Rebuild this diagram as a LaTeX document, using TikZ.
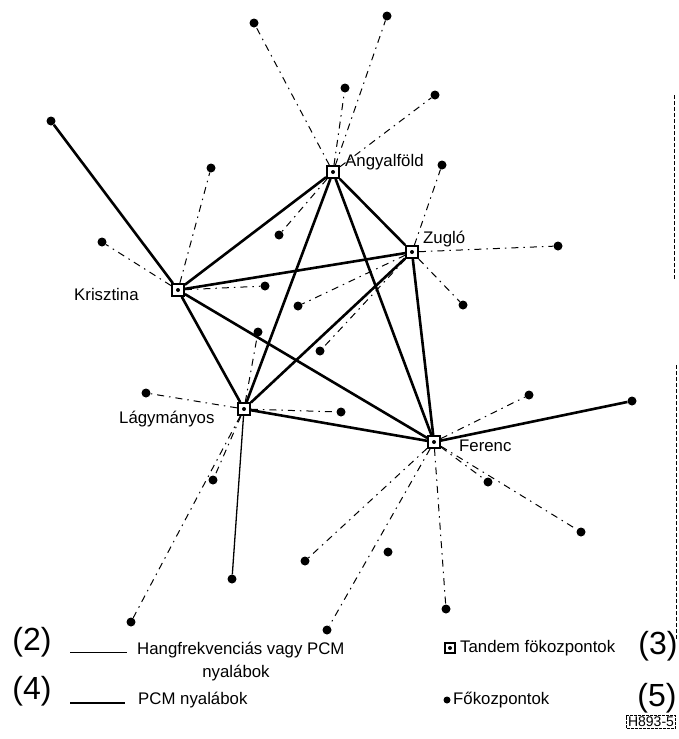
\documentclass[tikz,border=0pt]{standalone}
\usepackage{fontspec}
\setmainfont{Liberation Sans}

\begin{document}
\begin{tikzpicture}[x=1pt, y=-1pt,
  tandem/.style={draw, line width=1.8pt, fill=white, minimum size=12pt, inner sep=0pt,
    path picture={\fill [black] (path picture bounding box.center) circle (2pt);}},
  fok/.style={circle, fill, inner sep=0pt, minimum size=9pt},
  lbl/.style={font=\fontsize{16.8}{19}\selectfont, inner sep=0pt},
  num/.style={font=\fontsize{32}{34}\selectfont, inner sep=0pt},
  pcm/.style={line width=2.6pt},
  hang/.style={line width=1pt, dash pattern=on 7pt off 5pt on 1.5pt off 5pt},
  hangs/.style={line width=1.3pt},
  scanedge/.style={line width=0.9pt, dash pattern=on 4pt off 2pt}]
\useasboundingbox (0,0) rectangle (678,739);
\node [tandem] (ang) at (333,172) {};
\node [tandem] (zug) at (412,252) {};
\node [tandem] (kri) at (178,290) {};
\node [tandem] (lag) at (244,409) {};
\node [tandem] (fer) at (434,442) {};
\node [lbl, anchor=west] (angl) at (345,162) {Angyalföld};
\node [lbl, anchor=west] (zugl) at (423,239) {Zugló};
\node [lbl, anchor=west] (kril) at (74,294) {Krisztina};
\node [lbl, anchor=west] (lagl) at (119,419) {Lágymányos};
\node [lbl, anchor=west] (ferl) at (459,446) {Ferenc};
% fokozpontok
\node [fok] (a1) at (254,23) {};
\node [fok] (a2) at (387,16) {};
\node [fok] (a3) at (345,88) {};
\node [fok] (a4) at (435,95) {};
\node [fok] (a5) at (279,235) {};
\node [fok] (k1) at (51,121) {};
\node [fok] (k2) at (211,168) {};
\node [fok] (k3) at (102,242) {};
\node [fok] (k4) at (265,286) {};
\node [fok] (z1) at (442,165) {};
\node [fok] (z2) at (558,246) {};
\node [fok] (z3) at (298,306) {};
\node [fok] (z4) at (463,305) {};
\node [fok] (z5) at (320,351) {};
\node [fok] (l1) at (258,332) {};
\node [fok] (l2) at (146,393) {};
\node [fok] (l3) at (341,412) {};
\node [fok] (l4) at (213,480) {};
\node [fok] (l5) at (232,579) {};
\node [fok] (l6) at (131,622) {};
\node [fok] (f1) at (529,395) {};
\node [fok] (f2) at (632,401) {};
\node [fok] (f3) at (488,482) {};
\node [fok] (f4) at (581,532) {};
\node [fok] (f5) at (305,561) {};
\node [fok] (f6) at (388,552) {};
\node [fok] (f7) at (327,630) {};
\node [fok] (f8) at (446,609) {};
% PCM
\draw [pcm] (ang) -- (kri);
\draw [pcm] (ang) -- (zug);
\draw [pcm] (ang) -- (lag);
\draw [pcm] (ang) -- (fer);
\draw [pcm] (kri) -- (zug);
\draw [pcm] (kri) -- (lag);
\draw [pcm] (kri) -- (fer);
\draw [pcm] (zug) -- (lag);
\draw [pcm] (zug) -- (fer);
\draw [pcm] (lag) -- (fer);
\draw [pcm] (kri) -- (k1);
\draw [pcm] (fer) -- (f2);
% hangfrekvencias
\draw [hang] (ang) -- (a1);
\draw [hang] (ang) -- (a2);
\draw [hang] (ang) -- (a3);
\draw [hang] (ang) -- (a4);
\draw [hang] (ang) -- (a5);
\draw [hang] (kri) -- (k2);
\draw [hang] (kri) -- (k3);
\draw [hang] (kri) -- (k4);
\draw [hang] (zug) -- (z1);
\draw [hang] (zug) -- (z2);
\draw [hang] (zug) -- (z3);
\draw [hang] (zug) -- (z4);
\draw [hang] (zug) -- (z5);
\draw [hang] (lag) -- (l1);
\draw [hang] (lag) -- (l2);
\draw [hang] (lag) -- (l3);
\draw [hang] (lag) -- (l4);
\draw [hangs] (lag) -- (l5);
\draw [hang] (lag) -- (l6);
\draw [hang] (fer) -- (f1);
\draw [hang] (fer) -- (f3);
\draw [hang] (fer) -- (f4);
\draw [hang] (fer) -- (f5);
\draw [hang] (fer) -- (f7);
\draw [hang] (fer) -- (f8);
\draw [scanedge] (674,95) -- (674,280);
\draw [scanedge] (676,365) -- (676,640);
% jelmagyarazat
\node [num] (n2) at (32,642) {(2)};
\coordinate (h1) at (70,652);
\coordinate (h2) at (127,652);
\draw [line width=1pt] (h1) -- (h2);
\node [lbl, anchor=west] (hang1) at (137,650) {Hangfrekvenciás vagy PCM};
\node [lbl] (hang2) at (236,673) {nyalábok};
\node [num] (n4) at (32,691) {(4)};
\coordinate (p1) at (70,703);
\coordinate (p2) at (125,703);
\draw [line width=2.2pt] (p1) -- (p2);
\node [lbl, anchor=west] (pcml) at (138,700) {PCM nyalábok};
\node [tandem, minimum size=10pt, line width=1.3pt] (tlg) at (450,648) {};
\node [lbl, anchor=west] (tandl) at (460,648) {Tandem fökozpontok};
\node [num] (n3) at (658,646) {(3)};
\node [fok, minimum size=7pt] (flg) at (447,700) {};
\node [lbl, anchor=west] (fokl) at (453,700) {Főkozpontok};
\node [num] (n5) at (657,698) {(5)};
\node [draw, line width=0.6pt, dash pattern=on 3pt off 1pt, inner sep=1.5pt,
  font=\fontsize{14}{15}\selectfont] (code) at (651,722) {H893-5};
\end{tikzpicture}
\end{document}
